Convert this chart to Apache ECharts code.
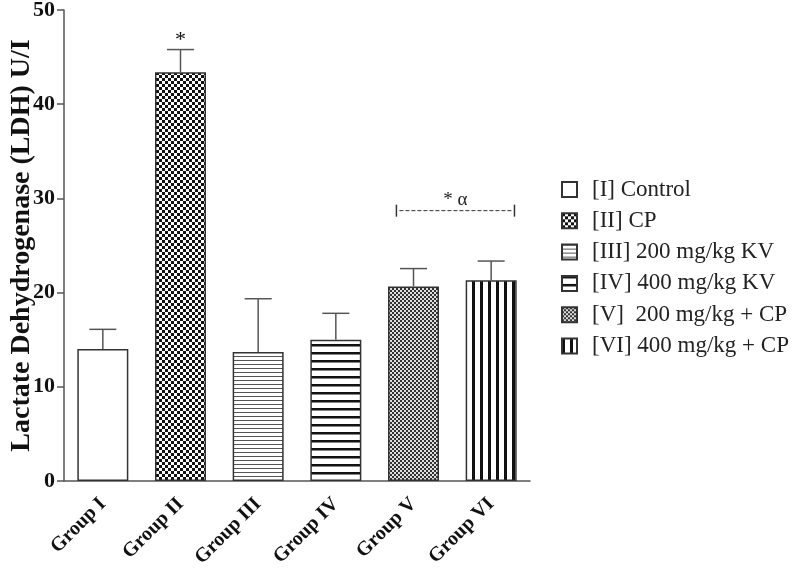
<!DOCTYPE html>
<html><head><meta charset="utf-8">
<script src="https://cdn.jsdelivr.net/npm/echarts@6/dist/echarts.min.js"></script>
<style>html,body{margin:0;padding:0;background:#fff}#c{width:792px;height:576px}</style>
</head><body><div id="c"></div>
<script>
const categories = ['Group I','Group II','Group III','Group IV','Group V','Group VI'];
const legendNames = ['[I] Control','[II] CP','[III] 200 mg/kg KV','[IV] 400 mg/kg KV','[V]  200 mg/kg + CP','[VI] 400 mg/kg + CP'];
const means = [14.0, 43.4, 13.7, 15.0, 20.65, 21.3];
const errors = [2.1, 2.4, 5.65, 2.8, 1.9, 2.05];
const yTicks = [0, 10, 20, 30, 40, 50];

const FONT = '"Liberation Serif","Times New Roman",serif';

function makePattern(kind){
  const c = document.createElement('canvas');
  let g;
  if(kind==='white'){ return '#fff'; }
  if(kind==='checker'){
    c.width=6;c.height=6;g=c.getContext('2d');
    g.fillStyle='#fff';g.fillRect(0,0,6,6);
    g.fillStyle='#111';g.fillRect(0,0,3,3);g.fillRect(3,3,3,3);
  } else if(kind==='thinH'){
    c.width=4;c.height=4;g=c.getContext('2d');
    g.fillStyle='#fff';g.fillRect(0,0,4,4);
    g.fillStyle='#555';g.fillRect(0,0,4,1);
  } else if(kind==='thickH'){
    c.width=8;c.height=8;g=c.getContext('2d');
    g.fillStyle='#fff';g.fillRect(0,0,8,8);
    g.fillStyle='#111';g.fillRect(0,0,8,2.5);
  } else if(kind==='fine'){
    c.width=4;c.height=4;g=c.getContext('2d');
    g.fillStyle='#ddd';g.fillRect(0,0,4,4);
    g.fillStyle='#333';g.fillRect(0,0,2,2);g.fillRect(2,2,2,2);
  } else if(kind==='vert'){
    c.width=8;c.height=8;g=c.getContext('2d');
    g.fillStyle='#fff';g.fillRect(0,0,8,8);
    g.fillStyle='#111';g.fillRect(0,0,3,8);
  }
  return {image:c, repeat:'repeat'};
}
const patterns = ['white','checker','thinH','thickH','fine','vert'].map(makePattern);

const chart = echarts.init(document.getElementById('c'));
const barSeries = legendNames.map((n,i)=>({
  name:n, type:'bar', barWidth:51, barGap:'-100%',
  data: categories.map((c,j)=> j===i ? means[i] : '-'),
  itemStyle:{color:patterns[i], borderColor:'#333', borderWidth:1.5},
  emphasis:{disabled:true}, z:2
}));
const errSeries = {
  type:'custom', name:'err', z:3,
  data: means.map((m,i)=>[i, m, m+errors[i]]),
  renderItem:(params, api)=>{
    const p0 = api.coord([api.value(0), api.value(1)]);
    const p1 = api.coord([api.value(0), api.value(2)]);
    const hw = 13.5;
    const st = {stroke:'#555', lineWidth:1.5};
    return {type:'group', children:[
      {type:'line', shape:{x1:p0[0],y1:p0[1],x2:p1[0],y2:p1[1]}, style:st},
      {type:'line', shape:{x1:p1[0]-hw,y1:p1[1],x2:p1[0]+hw,y2:p1[1]}, style:st}
    ]};
  }
};
chart.setOption({
  animation:false,
  grid:{left:64, right:262, top:10, bottom:95, outerBoundsMode:'none', containLabel:false},
  legend:{
    data:legendNames, orient:'vertical', left:556, top:173,
    itemWidth:15, itemHeight:15, itemGap:8.3, icon:'rect',
    selectedMode:false,
    textStyle:{fontFamily:FONT, fontSize:23, lineHeight:23, color:'#222', padding:[0,0,0,10]}
  },
  xAxis:{
    type:'category', data:categories,
    axisLine:{lineStyle:{color:'#555', width:1.5}},
    axisTick:{alignWithLabel:true, length:6, lineStyle:{color:'#555', width:1.5}},
    axisLabel:{rotate:45, margin:20, fontFamily:FONT, fontWeight:'bold', fontSize:20, color:'#111', interval:0}
  },
  yAxis:{
    type:'value', min:yTicks[0], max:yTicks[yTicks.length-1], interval:10,
    name:'Lactate Dehydrogenase (LDH) U/I', nameLocation:'middle', nameGap:28, nameMoveOverlap:false,
    nameTextStyle:{fontFamily:FONT, fontWeight:'bold', fontSize:28, color:'#111'},
    axisLine:{show:true, lineStyle:{color:'#555', width:1.5}},
    axisTick:{show:true, length:7, lineStyle:{color:'#555', width:1.5}},
    splitLine:{show:false},
    axisLabel:{margin:9, fontFamily:FONT, fontWeight:'bold', fontSize:22, color:'#111'}
  },
  series:[...barSeries, errSeries]
});

// annotations (category positions interpolated from axis pixels)
function px(xc, yv){
  const a = chart.convertToPixel({xAxisIndex:0, yAxisIndex:0}, [0, yv]);
  const b = chart.convertToPixel({xAxisIndex:0, yAxisIndex:0}, [1, yv]);
  return [a[0] + (b[0]-a[0])*xc, a[1]];
}
const pStar = px(1, means[1]+errors[1]);
const pL = px(3.78, 28.7);
const pR = px(5.3, 28.7);
chart.setOption({graphic:[
  {type:'text', x:pStar[0], y:pStar[1]+2, style:{text:'*', fontFamily:FONT, fontSize:22, fill:'#111', align:'center', verticalAlign:'bottom'}},
  {type:'line', shape:{x1:pL[0]+3,y1:pL[1],x2:pR[0]-3,y2:pR[1]}, style:{stroke:'#333', lineWidth:1, lineDash:[4,2]}},
  {type:'line', shape:{x1:pL[0],y1:pL[1]-6,x2:pL[0],y2:pL[1]+6}, style:{stroke:'#333', lineWidth:1.5}},
  {type:'line', shape:{x1:pR[0],y1:pR[1]-6,x2:pR[0],y2:pR[1]+6}, style:{stroke:'#333', lineWidth:1.5}},
  {type:'text', x:(pL[0]+pR[0])/2, y:pL[1]-1, style:{text:'* α', fontFamily:FONT, fontSize:19, fill:'#222', align:'center', verticalAlign:'bottom'}}
]});
</script></body></html>
